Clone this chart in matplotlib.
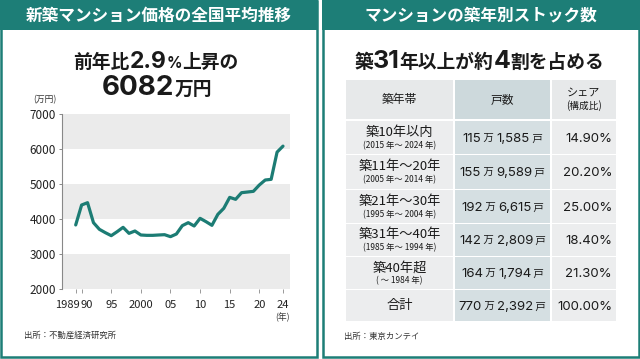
import matplotlib
matplotlib.use("Agg")
import matplotlib.pyplot as plt
from matplotlib.patches import Rectangle
from matplotlib.transforms import ScaledTranslation

plt.rcParams['font.family'] = ['Noto Sans CJK JP', 'DejaVu Sans']

# ---------------- data ----------------
years = list(range(1989, 2025))
prices = [3830, 4400, 4466, 3895, 3705, 3610, 3524, 3638, 3762, 3590,
          3657, 3543, 3533, 3533, 3543, 3552, 3495, 3571, 3810, 3895,
          3800, 4019, 3924, 3819, 4133, 4305, 4618, 4562, 4752, 4771,
          4790, 4971, 5114, 5133, 5911, 6082]
xticks = [1989, 1990, 1995, 2000, 2005, 2010, 2015, 2020, 2024]
xticklabels = ['1989', '90', '95', '2000', '05', '10', '15', '20', '24']
yticks = [2000, 3000, 4000, 5000, 6000, 7000]

age_labels = ['築10年以内', '築11年〜20年', '築21年〜30年', '築31年〜40年', '築40年超', '合計']
age_sub = ['(2015 年〜 2024 年)', '(2005 年〜 2014 年)', '(1995 年〜 2004 年)',
           '(1985 年〜 1994 年)', '( 〜 1984 年)', '']
units_man = [115, 155, 192, 142, 164, 770]
units_rest = ['1,585', '9,589', '6,615', '2,809', '1,794', '2,392']
shares = [14.90, 20.20, 25.00, 18.40, 21.30, 100.00]

TEAL = '#1d7e77'
LINE = '#1c7c74'
DARK = '#1a1a1a'
CJK = ['Noto Sans CJK JP', 'DejaVu Sans']
NUM = ['Inter', 'Noto Sans CJK JP', 'DejaVu Sans']

W, H = 640, 359
fig = plt.figure(figsize=(W / 100, H / 100), dpi=100)
bg = fig.add_axes([0, 0, 1, 1])
bg.set_xlim(0, W)
bg.set_ylim(H, 0)
bg.axis('off')

renderer = fig.canvas.get_renderer()


def runs(x, y, parts, ha='center', color=DARK):
    """Draw text pieces on a common baseline. parts: (text, size, weight, family)."""
    objs = []
    widths = []
    for t, s, wgt, fam in parts:
        o = bg.text(0, y, t, fontsize=s, fontweight=wgt, color=color,
                    ha='left', va='baseline', family=fam)
        bb = o.get_window_extent(renderer=renderer)
        objs.append(o)
        widths.append(bb.width)
    total = sum(widths)
    if ha == 'center':
        cx = x - total / 2
    elif ha == 'right':
        cx = x - total
    else:
        cx = x
    for o, w in zip(objs, widths):
        o.set_x(cx)
        cx += w


# ---------------- panels ----------------
for x0, x1 in [(0, 318), (322, 640)]:
    bg.add_patch(Rectangle((x0 + 1.2, 1), x1 - x0 - 2.4, 356, fill=False,
                           edgecolor=TEAL, linewidth=1.8))
    bg.add_patch(Rectangle((x0, 0), x1 - x0, 30, facecolor=TEAL, edgecolor='none'))

bg.text(159, 15.5, '新築マンション価格の全国平均推移', color='white', fontsize=12,
        fontweight='bold', ha='center', va='center')
bg.text(481, 15.5, 'マンションの築年別ストック数', color='white', fontsize=12,
        fontweight='bold', ha='center', va='center')

# left subtitle
runs(156, 68, [('前年比', 13.5, 'bold', CJK), ('2.9', 16.5, 'bold', NUM),
               ('%', 11, 'bold', NUM), ('上昇の', 13.5, 'bold', CJK)])
runs(157, 95, [('6082', 20, 'bold', NUM), ('万円', 13.5, 'bold', CJK)])

# right subtitle
runs(479, 68, [('築', 13.5, 'bold', CJK), ('31', 18, 'bold', NUM),
               ('年以上が約', 13.5, 'bold', CJK), ('4', 18, 'bold', NUM),
               ('割を占める', 13.5, 'bold', CJK)])

# ---------------- chart ----------------
L, R, T, B = 62, 290, 114, 289
ax = fig.add_axes([L / W, 1 - B / H, (R - L) / W, (B - T) / H])
per = (283 - 75.7) / 35
ax.set_xlim(1989 - (75.7 - L) / per, 2024 + (R - 283) / per)
ax.set_ylim(2000, 7000)
for lo in (2000, 4000, 6000):
    ax.axhspan(lo, lo + 1000, color='#ebebeb', lw=0, zorder=0)
ax.plot(years, prices, color=LINE, lw=2.3, solid_joinstyle='round',
        solid_capstyle='round', zorder=3)
for s in ['top', 'right', 'bottom']:
    ax.spines[s].set_visible(False)
ax.spines['left'].set_color('#888888')
ax.spines['left'].set_linewidth(0.8)
ax.set_yticks(yticks)
ax.set_yticklabels([str(v) for v in yticks], fontsize=8.5, color='#222222')
ax.tick_params(axis='y', length=2.5, width=0.7, color='#888888', pad=2)
ax.set_xticks(xticks)
ax.set_xticklabels(xticklabels, fontsize=8, color='#222222')
ax.tick_params(axis='x', length=3, width=0.7, color='#999999', pad=5)
labs = ax.get_xticklabels()
labs[0].set_ha('right')
labs[0].set_transform(labs[0].get_transform() + ScaledTranslation(4 / 100, 0, fig.dpi_scale_trans))
labs[1].set_ha('left')
labs[1].set_transform(labs[1].get_transform() + ScaledTranslation(-1 / 100, 0, fig.dpi_scale_trans))
ax.set_facecolor('none')

bg.text(45, 100, '(万円)', fontsize=6.3, color='#333333', ha='center', va='center')
bg.text(283, 317, '(年)', fontsize=6.3, color='#333333', ha='center', va='center')
bg.text(24, 335, '出所：不動産経済研究所', fontsize=6, color='#333333', ha='left', va='center')

# ---------------- table ----------------
cols = [(346, 453), (455, 550), (552, 616)]
hdr = (80, 119)
row_edges = [121, 155, 190, 224, 257, 290, 322]
body_c = ['#ecedee', '#d5dfe2', '#ecedee']
head_c = ['#e7e9ea', '#cdd9dc', '#e7e9ea']
for (c0, c1), col in zip(cols, head_c):
    bg.add_patch(Rectangle((c0, hdr[0]), c1 - c0, hdr[1] - hdr[0], facecolor=col, edgecolor='none'))
for i in range(len(age_labels)):
    y0, y1 = row_edges[i], row_edges[i + 1] - 1.5
    for (c0, c1), col in zip(cols, body_c):
        bg.add_patch(Rectangle((c0, y0), c1 - c0, y1 - y0, facecolor=col, edgecolor='none'))

cx = [(c0 + c1) / 2 for c0, c1 in cols]
bg.text(cx[0], 100, '築年帯', fontsize=8.5, color=DARK, ha='center', va='center')
bg.text(cx[1], 100, '戸数', fontsize=8.5, color=DARK, ha='center', va='center')
bg.text(cx[2], 93, 'シェア', fontsize=8, color=DARK, ha='center', va='center')
bg.text(cx[2], 106, '(構成比)', fontsize=7, color=DARK, ha='center', va='center')

for i in range(len(age_labels)):
    y0, y1 = row_edges[i], row_edges[i + 1] - 1.5
    ym = (y0 + y1) / 2
    if age_sub[i]:
        bg.text(cx[0], ym - 5, age_labels[i], fontsize=9.5, color=DARK, ha='center', va='center')
        bg.text(cx[0], ym + 8, age_sub[i], fontsize=6, color=DARK, ha='center', va='center')
    else:
        bg.text(cx[0], ym, age_labels[i], fontsize=9.5, color=DARK, ha='center', va='center')
    runs(cx[1], ym + 4.5, [(str(units_man[i]), 9.5, 'normal', NUM), (' 万 ', 7.5, 'normal', CJK),
                           (units_rest[i], 9.5, 'normal', NUM), (' 戸', 7.5, 'normal', CJK)])
    bg.text(612, ym + 4.5, f'{shares[i]:.2f}%', fontsize=9.5, color=DARK,
            ha='right', va='baseline', family=NUM)

bg.text(344, 336, '出所：東京カンテイ', fontsize=6, color='#333333', ha='left', va='center')

fig.savefig('out.png', dpi=100)
